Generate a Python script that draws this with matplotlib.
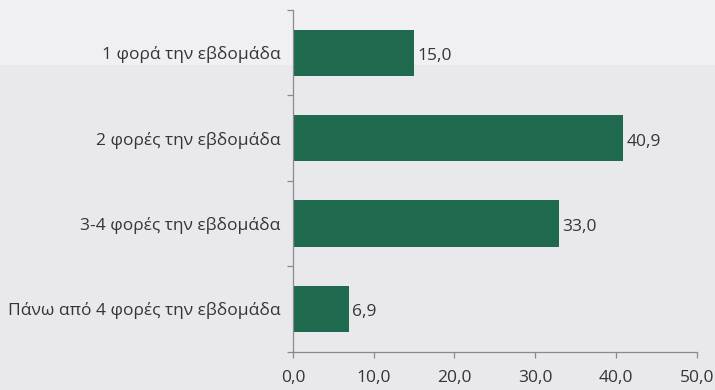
import matplotlib
matplotlib.use("Agg")
import matplotlib.pyplot as plt
from matplotlib.patches import Rectangle
import numpy as np

categories = [
    "1 φορά την εβδομάδα",
    "2 φορές την εβδομάδα",
    "3-4 φορές την εβδομάδα",
    "Πάνω από 4 φορές την εβδομάδα",
]
values = [15.0, 40.9, 33.0, 6.9]
x_ticks = [0, 10, 20, 30, 40, 50]


def comma(v):
    return f"{v:.1f}".replace(".", ",")


plt.rcParams["font.family"] = ["Open Sans", "DejaVu Sans"]

BG = "#e9e9ed"
BG_TOP = "#f0f0f3"
BAR = "#1f6a4e"
TEXT = "#353535"
AXIS = "#8a8a8a"

fig = plt.figure(figsize=(7.15, 3.9), dpi=100, facecolor=BG)
# lighter band across the top of the page, behind the axes
fig.patches.append(Rectangle((0, 1 - 65 / 390), 1, 65 / 390,
                             transform=fig.transFigure, facecolor=BG_TOP,
                             edgecolor="none", zorder=-5))

ax = fig.add_axes([293 / 715, 1 - 351.7 / 390, (696.7 - 293) / 715,
                   (351.7 - 10) / 390])
ax.patch.set_alpha(0)

y = np.arange(len(categories))
ax.barh(y, values, height=0.54, color=BAR, edgecolor="none", zorder=2)

for yi, v in zip(y, values):
    ax.text(v + 0.4, yi + 0.04, comma(v), va="center", ha="left",
            fontsize=12.5, color=TEXT)

ax.set_xlim(0, 50)
ax.set_ylim(len(categories) - 0.5, -0.5)

ax.set_xticks(x_ticks)
ax.set_xticklabels([comma(t) for t in x_ticks])
ax.set_yticks(y)
ax.set_yticklabels(categories)
ax.set_yticks(np.arange(-0.5, len(categories), 1.0), minor=True)

ax.tick_params(axis="y", which="major", length=0, pad=9,
               labelsize=12.5, labelcolor=TEXT)
ax.tick_params(axis="y", which="minor", length=4.5, width=0.9, color=AXIS)
ax.tick_params(axis="x", which="major", length=4, width=0.9, color=AXIS,
               pad=9, labelsize=12.5, labelcolor=TEXT)

for side in ("top", "right"):
    ax.spines[side].set_visible(False)
for side in ("left", "bottom"):
    ax.spines[side].set_color(AXIS)
    ax.spines[side].set_linewidth(0.9)

fig.savefig("out.png", dpi=100, facecolor=BG)
